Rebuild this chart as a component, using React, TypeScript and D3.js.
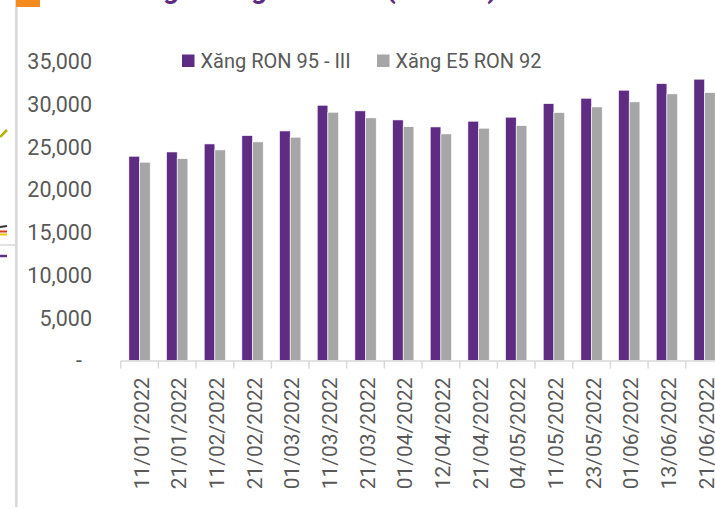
import { useEffect, useRef } from 'react';
import * as d3 from 'd3';

const dates = [
  '11/01/2022', '21/01/2022', '11/02/2022', '21/02/2022', '01/03/2022', '11/03/2022',
  '21/03/2022', '01/04/2022', '12/04/2022', '21/04/2022', '04/05/2022', '11/05/2022',
  '23/05/2022', '01/06/2022', '13/06/2022', '21/06/2022',
];
const ron95 = [
  23910, 24410, 25350, 26320, 26870, 29880, 29220, 28160,
  27340, 28010, 28480, 30070, 30700, 31640, 32410, 32930,
];
const e5ron92 = [
  23210, 23630, 24650, 25590, 26140, 29060, 28400, 27370,
  26520, 27190, 27490, 29020, 29680, 30270, 31210, 31360,
];
const seriesNames = ['Xăng RON 95 - III', 'Xăng E5 RON 92'];
const seriesColors = ['#5f2c84', '#a6a6a6'];
const yTicks = [0, 5000, 10000, 15000, 20000, 25000, 30000, 35000];

const W = 715;
const H = 509;
const FONT = 'Roboto, "Open Sans", sans-serif';

export default function App() {
  const svgRef = useRef<SVGSVGElement>(null);

  useEffect(() => {
    if (!svgRef.current) return;
    const svg = d3.select(svgRef.current);
    svg.selectAll('*').remove();

    // clipped bits of the neighbouring page layout
    svg.append('rect').attr('x', 15).attr('y', 0).attr('width', 2.6).attr('height', 507).attr('fill', '#d9d9d9');
    svg.append('rect').attr('x', 16).attr('y', 0).attr('width', 24).attr('height', 7).attr('fill', '#f58a1f');
    svg.append('line').attr('x1', 0).attr('y1', 137).attr('x2', 7).attr('y2', 130)
      .attr('stroke', '#b3b300').attr('stroke-width', 2.5);
    svg.append('line').attr('x1', 0).attr('y1', 227).attr('x2', 7).attr('y2', 226)
      .attr('stroke', '#333').attr('stroke-width', 2);
    svg.append('line').attr('x1', 0).attr('y1', 231.5).attr('x2', 7).attr('y2', 231.5)
      .attr('stroke', '#e03a1e').attr('stroke-width', 2);
    svg.append('line').attr('x1', 0).attr('y1', 234.5).attr('x2', 7).attr('y2', 234.5)
      .attr('stroke', '#f5c400').attr('stroke-width', 2);
    svg.append('line').attr('x1', 0).attr('y1', 245).attr('x2', 15).attr('y2', 245)
      .attr('stroke', '#d9d9d9').attr('stroke-width', 1.5);
    svg.append('line').attr('x1', 0).attr('y1', 256).attr('x2', 7).attr('y2', 256)
      .attr('stroke', '#5f2c84').attr('stroke-width', 2.5);

    // title, mostly cut off at the top edge
    const title = svg.append('text')
      .attr('y', -2.5)
      .attr('font-family', FONT)
      .attr('font-size', 28)
      .attr('font-weight', 700)
      .attr('fill', '#5f2c84');
    title.append('tspan').attr('x', 179).attr('text-anchor', 'end').text('Giá bán lẻ xăng');
    title.append('tspan').attr('x', 267).attr('text-anchor', 'end').text(' trong');
    title.append('tspan').attr('x', 380).attr('text-anchor', 'end').text(' nước');
    title.append('tspan').attr('x', 386).attr('text-anchor', 'start').text('(VND/lít)');

    const x0 = d3.scaleBand<string>()
      .domain(dates)
      .range([120.7, 723.4])
      .paddingInner(0.434)
      .paddingOuter(0.217);
    const x1 = d3.scaleBand<number>()
      .domain([0, 1])
      .range([0, x0.bandwidth()]);
    const y = d3.scaleLinear().domain([0, 35000]).range([360.5, 61.5]);

    // y labels
    svg.append('g')
      .selectAll('text')
      .data(yTicks)
      .enter()
      .append('text')
      .attr('x', d => (d === 0 ? 82 : 92))
      .attr('y', d => y(d))
      .attr('dy', '0.36em')
      .attr('text-anchor', 'end')
      .attr('font-family', FONT)
      .attr('font-size', 21.5)
      .attr('fill', '#595959')
      .text(d => (d === 0 ? '-' : d3.format(',')(d)));

    // bars
    const groups = svg.append('g')
      .selectAll('g')
      .data(dates)
      .enter()
      .append('g')
      .attr('transform', d => `translate(${x0(d)},0)`);
    groups.selectAll('rect')
      .data((_, i) => [ron95[i], e5ron92[i]])
      .enter()
      .append('rect')
      .attr('x', (_, j) => x1(j) as number)
      .attr('y', d => y(d))
      .attr('width', x1.bandwidth())
      .attr('height', d => y(0) - y(d))
      .attr('fill', (_, j) => seriesColors[j])
      .attr('stroke', '#ffffff')
      .attr('stroke-width', 0.6);

    // category axis
    const step = x0.step();
    const start = x0.range()[0];
    svg.append('line')
      .attr('x1', start).attr('x2', W)
      .attr('y1', y(0) + 0.5).attr('y2', y(0) + 0.5)
      .attr('stroke', '#d9d9d9').attr('stroke-width', 1.5);
    svg.append('g')
      .selectAll('line')
      .data(d3.range(dates.length + 1))
      .enter()
      .append('line')
      .attr('x1', i => start + i * step)
      .attr('x2', i => start + i * step)
      .attr('y1', y(0) + 0.5)
      .attr('y2', y(0) + 8)
      .attr('stroke', '#d9d9d9')
      .attr('stroke-width', 1.5);

    svg.append('g')
      .selectAll('text')
      .data(dates)
      .enter()
      .append('text')
      .attr('transform', d => `translate(${(x0(d) as number) + x0.bandwidth() / 2 + 2},377.5) rotate(-90)`)
      .attr('text-anchor', 'end')
      .attr('dominant-baseline', 'central')
      .attr('font-family', FONT)
      .attr('font-size', 21)
      .attr('fill', '#595959')
      .text(d => d);

    // legend
    const legendX = [182, 377];
    seriesNames.forEach((name, i) => {
      svg.append('rect')
        .attr('x', legendX[i]).attr('y', 54.5)
        .attr('width', 12.5).attr('height', 12.5)
        .attr('fill', seriesColors[i]);
      svg.append('text')
        .attr('x', legendX[i] + 18.5)
        .attr('y', 61)
        .attr('dy', '0.36em')
        .attr('font-family', FONT)
        .attr('font-size', 20)
        .attr('fill', '#595959')
        .text(name);
    });
  }, []);

  return (
    <svg
      ref={svgRef}
      width={W}
      height={H}
      style={{ display: 'block', position: 'absolute', left: 0, top: 0, background: '#fff' }}
    />
  );
}
